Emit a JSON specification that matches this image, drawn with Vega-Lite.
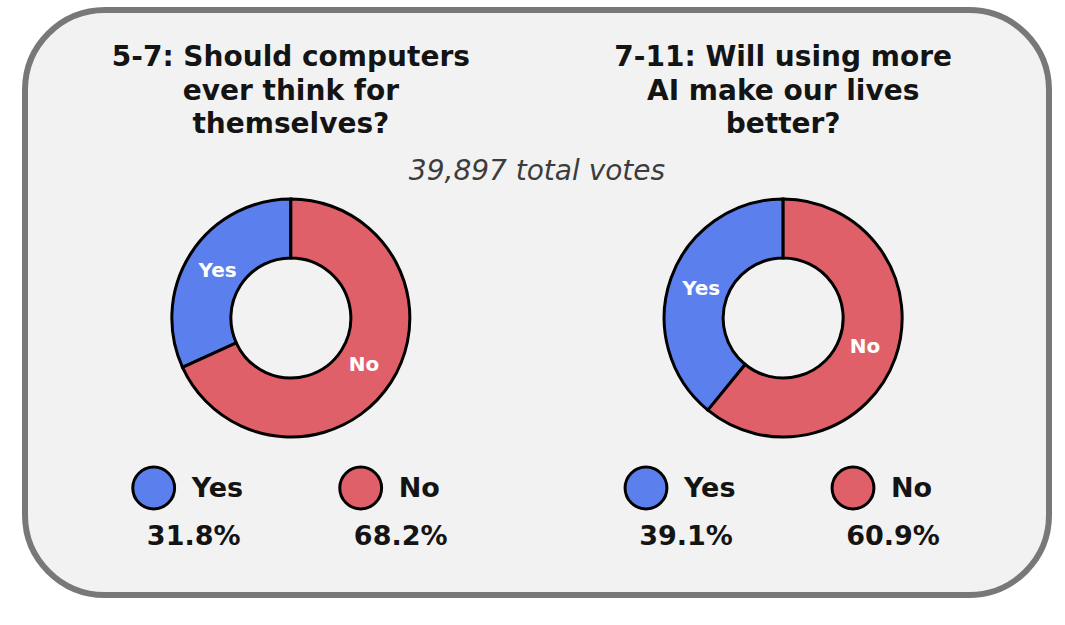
{
  "$schema": "https://vega.github.io/schema/vega-lite/v6.json",
  "width": 1024,
  "height": 585,
  "autosize": "none",
  "padding": {"left": 25, "top": 10, "right": 16, "bottom": 30},
  "background": "white",
  "config": {
    "view": {"fill": "#f2f2f2", "stroke": "#787878", "strokeWidth": 6, "cornerRadius": 80},
    "font": "DejaVu Sans",
    "axis": {"disable": true}
  },
  "datasets": {
    "votes": [
      {"grade": "5-7", "question": "5-7: Should computers\never think for\nthemselves?", "answer": "Yes", "share": 0.318},
      {"grade": "5-7", "question": "5-7: Should computers\never think for\nthemselves?", "answer": "No", "share": 0.682},
      {"grade": "7-11", "question": "7-11: Will using more\nAI make our lives\nbetter?", "answer": "Yes", "share": 0.391},
      {"grade": "7-11", "question": "7-11: Will using more\nAI make our lives\nbetter?", "answer": "No", "share": 0.609}
    ],
    "total": [{"note": "39,897 total votes"}]
  },
  "data": {"name": "votes"},
  "layer": [
    {
      "transform": [{"filter": "datum.answer === 'Yes'"}],
      "mark": {"type": "text", "fontSize": 28, "fontWeight": "bold", "lineBreak": "\n", "lineHeight": 33.5, "baseline": "alphabetic", "align": "center", "fill": "#141414"},
      "encoding": {
        "x": {"field": "grade", "type": "nominal", "axis": null, "scale": {"type": "band", "paddingInner": 0, "paddingOuter": 0.04}},
        "y": {"value": 56},
        "text": {"field": "question"}
      }
    },
    {
      "data": {"name": "total"},
      "mark": {"type": "text", "fontSize": 28, "fontStyle": "italic", "baseline": "alphabetic", "align": "center", "fill": "#3c3c3c"},
      "encoding": {
        "y": {"value": 170},
        "text": {"field": "note"}
      }
    },
    {
      "transform": [{"stack": "share", "groupby": ["grade"], "sort": [{"field": "answer", "order": "ascending"}], "as": ["s0", "s1"]}],
      "mark": {"type": "arc", "outerRadius": 119, "innerRadius": 60, "stroke": "black", "strokeWidth": 3},
      "encoding": {
        "x": {"field": "grade", "type": "nominal", "axis": null},
        "y": {"value": 308},
        "theta": {"field": "s0", "type": "quantitative", "scale": {"domain": [0, 1]}},
        "theta2": {"field": "s1"},
        "color": {"field": "answer", "type": "nominal", "scale": {"domain": ["Yes", "No"], "range": ["#5b80ee", "#e0606a"]}, "legend": null}
      }
    },
    {
      "transform": [{"filter": "datum.grade === '5-7'"}],
      "mark": {"type": "text", "radius": 87, "fill": "white", "fontWeight": "bold", "fontSize": 20, "baseline": "middle", "align": "center"},
      "encoding": {
        "x": {"field": "grade", "type": "nominal", "axis": null},
        "y": {"value": 308},
        "theta": {"field": "share", "type": "quantitative", "stack": true},
        "order": {"field": "answer", "sort": "ascending"},
        "text": {"field": "answer"}
      }
    },
    {
      "transform": [{"filter": "datum.grade === '7-11'"}],
      "mark": {"type": "text", "radius": 87, "fill": "white", "fontWeight": "bold", "fontSize": 20, "baseline": "middle", "align": "center"},
      "encoding": {
        "x": {"field": "grade", "type": "nominal", "axis": null},
        "y": {"value": 308},
        "theta": {"field": "share", "type": "quantitative", "stack": true},
        "order": {"field": "answer", "sort": "ascending"},
        "text": {"field": "answer"}
      }
    },
    {
      "mark": {"type": "point", "shape": "circle", "filled": true, "size": 1750, "stroke": "black", "strokeWidth": 3, "opacity": 1},
      "encoding": {
        "x": {"field": "grade", "type": "nominal", "axis": null},
        "xOffset": {"field": "answer", "type": "nominal", "scale": {"type": "point", "padding": 0, "domain": ["Yes", "No"], "range": [109, 316]}},
        "y": {"value": 478},
        "color": {"field": "answer", "type": "nominal", "legend": null}
      }
    },
    {
      "mark": {"type": "text", "fontSize": 27, "fontWeight": "bold", "align": "left", "baseline": "alphabetic", "dx": 38, "fill": "#141414"},
      "encoding": {
        "x": {"field": "grade", "type": "nominal", "axis": null},
        "xOffset": {"field": "answer", "type": "nominal"},
        "y": {"value": 487},
        "text": {"field": "answer"}
      }
    },
    {
      "mark": {"type": "text", "fontSize": 27, "fontWeight": "bold", "align": "center", "baseline": "alphabetic", "dx": 40, "fill": "#141414"},
      "encoding": {
        "x": {"field": "grade", "type": "nominal", "axis": null},
        "xOffset": {"field": "answer", "type": "nominal"},
        "y": {"value": 535},
        "text": {"field": "share", "type": "quantitative", "format": ".1%"}
      }
    }
  ]
}
